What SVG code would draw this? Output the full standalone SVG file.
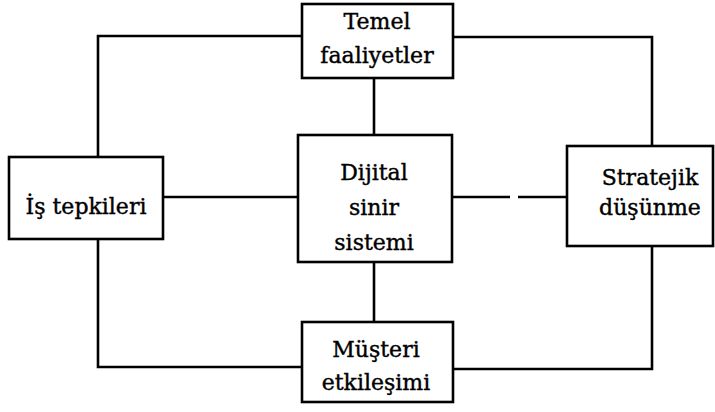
<svg xmlns="http://www.w3.org/2000/svg" width="715" height="412" viewBox="0 0 715 412">
<style>
.box{fill:#fff;stroke:#000;stroke-width:2.6}
.ln{fill:none;stroke:#000;stroke-width:2.6}
text{font-family:"DejaVu Serif","Liberation Serif",serif;font-size:22px;fill:#000;stroke:#000;stroke-width:0.4;text-anchor:middle}
</style>
<rect width="715" height="412" fill="#fff"/>
<g id="connectors">
<polyline class="ln" points="302,36 98,36 98,157"/>
<polyline class="ln" points="453,37 652,37 652,146"/>
<polyline class="ln" points="98,239 98,367 302,367"/>
<polyline class="ln" points="453,369 652,369 652,246"/>
<line class="ln" x1="374" y1="78" x2="374" y2="135"/>
<line class="ln" x1="374" y1="262" x2="374" y2="322"/>
<line class="ln" x1="163" y1="197" x2="298" y2="197"/>
<line class="ln" x1="452" y1="197" x2="510" y2="197"/>
<line class="ln" x1="518" y1="197" x2="567" y2="197"/>
</g>
<g id="temel">
<rect class="box" x="302" y="4" width="151" height="74"/>
<text x="377" y="29">Temel</text>
<text x="377" y="63">faaliyetler</text>
</g>
<g id="is-tepkileri">
<rect class="box" x="9" y="157" width="154" height="82"/>
<text x="86" y="214">İş tepkileri</text>
</g>
<g id="dijital">
<rect class="box" x="298" y="135" width="154" height="127"/>
<text x="374" y="180">Dijital</text>
<text x="374" y="215">sinir</text>
<text x="374" y="250">sistemi</text>
</g>
<g id="stratejik">
<rect class="box" x="567" y="146" width="146" height="100"/>
<text x="650" y="185">Stratejik</text>
<text x="650" y="215">düşünme</text>
</g>
<g id="musteri">
<rect class="box" x="302" y="322" width="151" height="80"/>
<text x="376" y="357">Müşteri</text>
<text x="376" y="390">etkileşimi</text>
</g>
</svg>
